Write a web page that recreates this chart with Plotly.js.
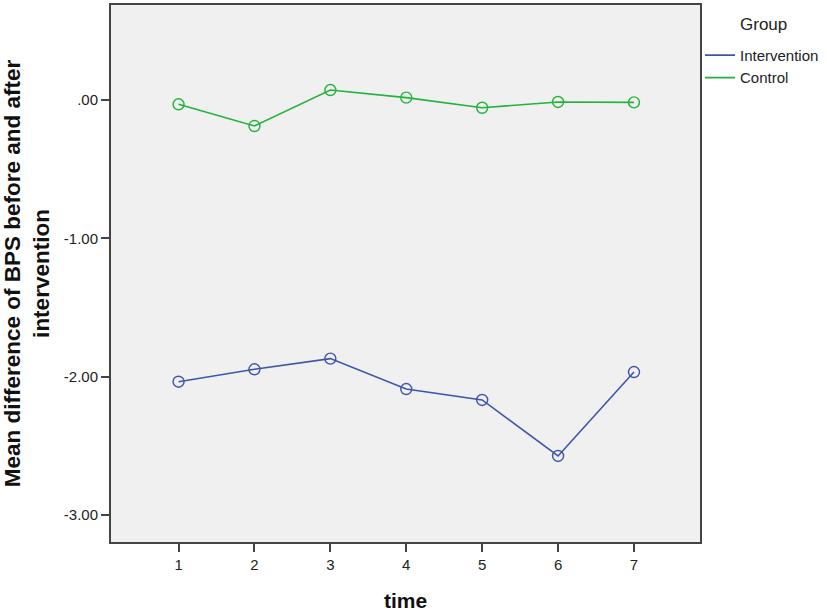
<!DOCTYPE html>
<html>
<head>
<meta charset="utf-8">
<script src="https://cdn.plot.ly/plotly-3.0.1.min.js"></script>
<style>html,body{margin:0;padding:0;background:#fff;}#chart{width:827px;height:612px;}</style>
</head>
<body>
<div id="chart"></div>
<script>
const time = [1, 2, 3, 4, 5, 6, 7];
const intervention = [-2.037, -1.947, -1.870, -2.090, -2.169, -2.574, -1.967];
const control = [-0.031, -0.188, 0.072, 0.017, -0.056, -0.014, -0.017];
const yTickVals = [0, -1, -2, -3];
const yTickText = ['.00', '-1.00', '-2.00', '-3.00'];
const seriesNames = ['Intervention', 'Control'];
const legendTitle = 'Group';
const colors = ['#3F55A8', '#22B33A'];

const mk = (y, i) => ({
  x: time, y: y, type: 'scatter', mode: 'lines+markers', showlegend: false,
  line: {color: colors[i], width: 1.6},
  marker: {symbol: 'circle-open', size: 11, color: colors[i], line: {width: 1.4, color: colors[i]}},
  hoverinfo: 'x+y'
});
const leg = (i) => ({
  x: [null], y: [null], type: 'scatter', mode: 'lines', name: seriesNames[i],
  line: {color: colors[i], width: 1.6}, showlegend: true
});
const data = [mk(intervention, 0), mk(control, 1), leg(0), leg(1)];

const FF = 'Arial, Liberation Sans, sans-serif';
const axisFont = {family: FF, size: 15, color: '#222'};
const layout = {
  width: 827, height: 612,
  margin: {l: 111, r: 127, t: 5, b: 70, autoexpand: false},
  paper_bgcolor: '#ffffff', plot_bgcolor: '#F0F0F0',
  font: axisFont,
  xaxis: {
    range: [0.11, 7.87], tickvals: time, ticktext: time.map(String),
    ticks: 'outside', ticklen: 8, tickwidth: 2, tickcolor: '#444',
    showline: true, linecolor: '#444', linewidth: 2, mirror: true,
    showgrid: false, zeroline: false, tickfont: axisFont,
    title: {text: 'time', font: {family: FF, size: 21, color: '#111', weight: 'bold'}, standoff: 21}
  },
  yaxis: {
    range: [-3.196, 0.687], tickvals: yTickVals, ticktext: yTickText,
    ticks: 'outside', ticklen: 8, tickwidth: 2, tickcolor: '#444',
    showline: true, linecolor: '#444', linewidth: 2, mirror: true,
    showgrid: false, zeroline: false, tickfont: axisFont,
    title: {text: 'Mean difference of BPS before and after<br>intervention', font: {family: FF, size: 22.5, color: '#111', weight: 'bold'}, standoff: 24}
  },
  legend: {
    x: 1.0, xanchor: 'left', y: 0.937, yanchor: 'top',
    bgcolor: 'rgba(0,0,0,0)', borderwidth: 0,
    font: {family: FF, size: 15, color: '#222'},
    tracegroupgap: 0, itemwidth: 30
  },
  annotations: [{
    text: legendTitle, xref: 'paper', yref: 'paper', x: 1.0645, y: 0.9628,
    xanchor: 'left', yanchor: 'middle', showarrow: false,
    font: {family: FF, size: 17, color: '#222'}
  }],
  showlegend: true
};
Plotly.newPlot('chart', data, layout, {displayModeBar: false, staticPlot: true});
</script>
</body>
</html>
